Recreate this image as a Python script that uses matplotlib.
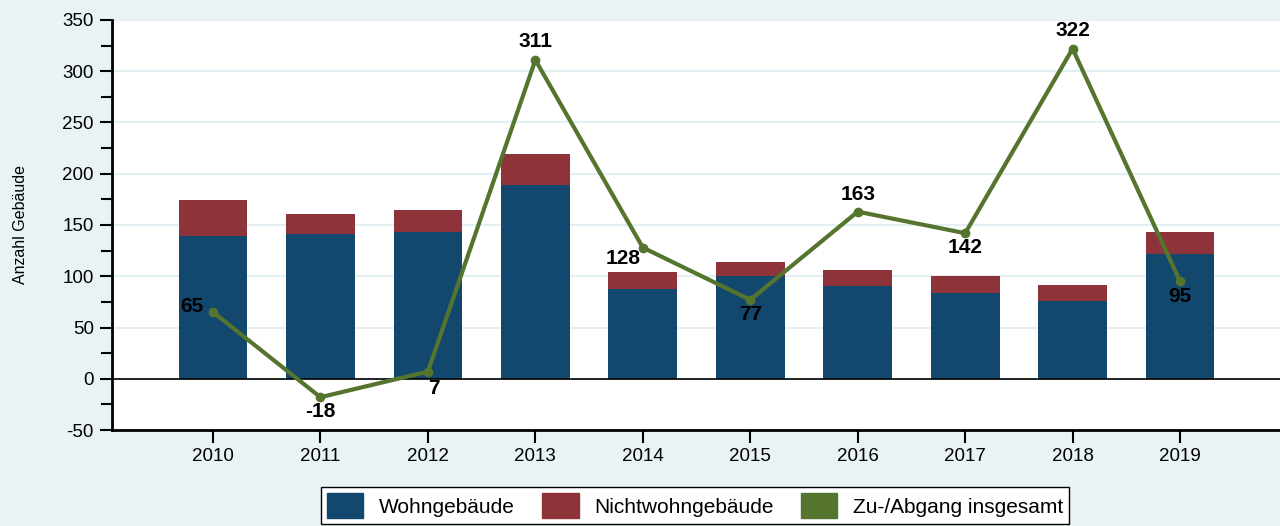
import numpy as np
import matplotlib.pyplot as plt
from matplotlib.patches import Patch
from matplotlib.ticker import MultipleLocator

plt.rcParams['font.family'] = ['Liberation Sans', 'DejaVu Sans']
plt.rcParams['axes.unicode_minus'] = False

jahre = ['2010', '2011', '2012', '2013', '2014', '2015', '2016', '2017', '2018', '2019']
wohn = [139, 141, 143, 189, 88, 100, 90, 84, 76, 122]
nichtwohn = [35, 20, 22, 30, 16, 14, 16, 16, 15, 21]
saldo = [65, -18, 7, 311, 128, 77, 163, 142, 322, 95]

# label centre offset from its point (dx, dy in pixels)
label_pos = [(-21, 6), (0, -14), (6, -17), (0, 18), (-20, -11),
             (0, -15), (0, 17), (0, -14), (0, 18), (0, -15)]

blau = '#12476e'
rot = '#8f333a'
gruen = '#55752f'
hg = '#e9f2f5'

fig = plt.figure(figsize=(12.8, 5.26), dpi=100, facecolor=hg)
ax = fig.add_axes([0.0875, 0.1825, 0.9125, 0.7795])
ax.set_facecolor('white')

x = np.arange(len(jahre))
ax.bar(x, wohn, width=0.64, color=blau, zorder=2)
ax.bar(x, nichtwohn, width=0.64, bottom=wohn, color=rot, zorder=2)
ax.axhline(0, color='black', lw=1.2, zorder=3)
ax.plot(x, saldo, color=gruen, lw=3, marker='o', ms=6, zorder=4)

for xi, v, (dx, dy) in zip(x, saldo, label_pos):
    ax.annotate(str(v), (xi, v), xytext=(dx * 0.72, dy * 0.72), textcoords='offset points',
                ha='center', va='center',
                fontsize=15, fontweight='bold', zorder=5)

ax.set_ylim(-50, 350)
ax.set_xlim(-0.94, 9.93)
ax.yaxis.set_major_locator(MultipleLocator(50))
ax.yaxis.set_minor_locator(MultipleLocator(25))
ax.set_xticks(x)
ax.set_xticklabels(jahre)
ax.tick_params(axis='y', which='major', length=9, width=1.5, labelsize=13.5, pad=4)
ax.tick_params(axis='y', which='minor', length=8, width=1.5)
ax.tick_params(axis='x', length=9, width=1.5, labelsize=13.5, pad=4)
ax.grid(axis='y', color='#e3eff2', lw=1.5, zorder=0)
ax.set_axisbelow(True)

for s in ['top', 'right']:
    ax.spines[s].set_visible(False)
ax.spines['left'].set_linewidth(2)
ax.spines['bottom'].set_linewidth(2)
ax.set_ylabel('Anzahl Gebäude', fontsize=11.5)
ax.yaxis.set_label_coords(-0.072, 0.5)

handles = [Patch(color=blau, label='Wohngebäude'),
           Patch(color=rot, label='Nichtwohngebäude'),
           Patch(color=gruen, label='Zu-/Abgang insgesamt')]
leg = fig.legend(handles=handles, loc='upper center', bbox_to_anchor=(0.543, 0.074),
                 ncol=3, fontsize=15, frameon=True, fancybox=False,
                 handlelength=1.75, handleheight=1.45, columnspacing=1.3,
                 borderpad=0.3, handletextpad=0.75, borderaxespad=0,
                 framealpha=1, facecolor='white')
leg.get_frame().set_edgecolor('black')
leg.get_frame().set_linewidth(1)

fig.savefig('out.png', dpi=100, facecolor=hg)
